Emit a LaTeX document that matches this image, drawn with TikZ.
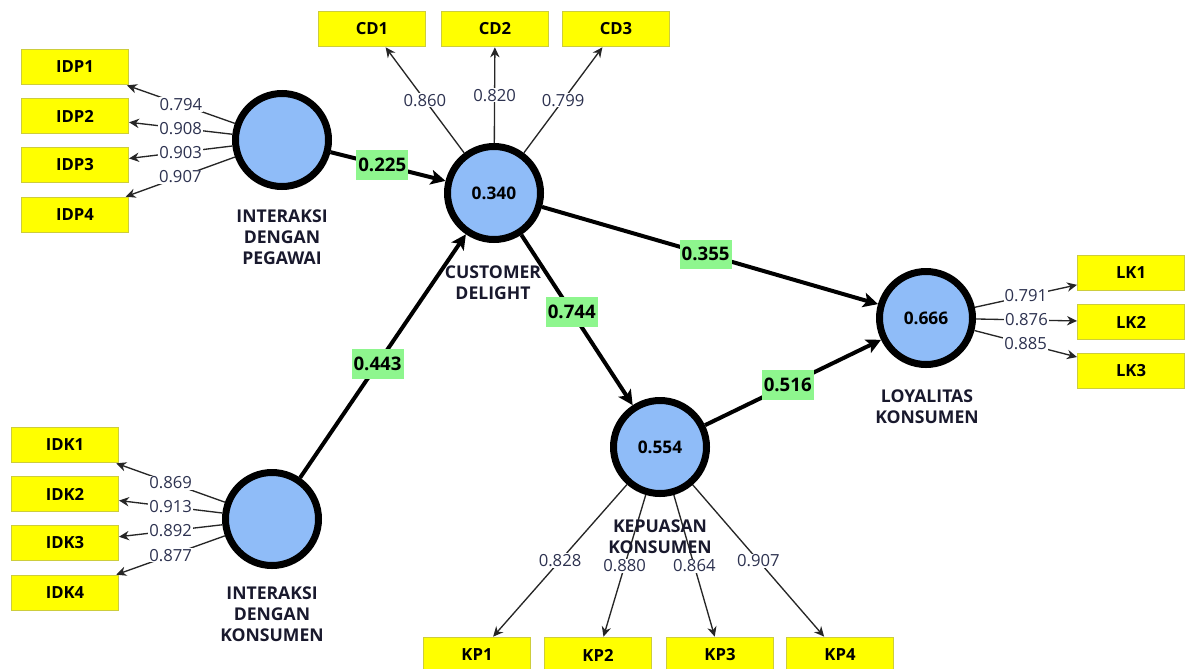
\documentclass[tikz,border=0pt]{standalone}
\usepackage{fontspec}
\setmainfont{Open Sans}
\usetikzlibrary{arrows.meta,calc}
\definecolor{boxyellow}{RGB}{255,255,0}
\definecolor{boxedge}{RGB}{205,205,60}
\definecolor{lvblue}{RGB}{143,188,248}
\definecolor{coefgreen}{RGB}{142,246,142}
\definecolor{loadtxt}{RGB}{45,50,80}
\definecolor{lvtxt}{RGB}{25,25,45}
\begin{document}
\begin{tikzpicture}[x=0.75pt,y=-0.75pt,
  ind/.style={draw=boxedge,line width=1pt,fill=boxyellow,minimum width=80pt,minimum height=26.5pt,inner sep=0pt,font=\fontsize{12.5}{15}\selectfont\bfseries},
  lv/.style={circle,draw=black,line width=5.25pt,fill=lvblue,minimum size=69.75pt,inner sep=0pt,font=\fontsize{13}{15}\selectfont\bfseries},
  lvname/.style={align=center,text=lvtxt,font=\fontsize{13.2}{15.75}\selectfont\bfseries},
  loadarrow/.style={draw=black!85,line width=1pt,-{Stealth[length=7.5pt,width=7pt]}},
  loadlab/.style={fill=white,inner sep=0.8pt,text=loadtxt,font=\fontsize{12.5}{14}\selectfont},
  struct/.style={draw=black,line width=3pt,-{Stealth[length=11pt,width=11pt,inset=2.5pt]}},
  coef/.style={fill=coefgreen,inner xsep=1.5pt,inner ysep=0pt,minimum height=22pt,font=\fontsize{14}{16}\selectfont\bfseries}
]
\useasboundingbox (0,0) rectangle (1187,668);
\fill[white] (0,0) rectangle (1187,668);

% latent variables
\node[lv] (idp) at (282,140) {};
\node[lv] (cd) at (494,193) {0.340};
\node[lv] (idk) at (272,519) {};
\node[lv] (kp) at (660,447) {0.554};
\node[lv] (lk) at (926,318) {0.666};

% indicators
\node[ind] (IDP1) at (75,67) {IDP1};
\node[ind] (IDP2) at (75,116) {IDP2};
\node[ind] (IDP3) at (75,165) {IDP3};
\node[ind] (IDP4) at (75,215) {IDP4};
\node[ind] (CD1) at (372,29) {CD1};
\node[ind] (CD2) at (495,29) {CD2};
\node[ind] (CD3) at (616,29) {CD3};
\node[ind] (LK1) at (1131,273) {LK1};
\node[ind] (LK2) at (1131,322) {LK2};
\node[ind] (LK3) at (1131,371) {LK3};
\node[ind] (IDK1) at (65,445) {IDK1};
\node[ind] (IDK2) at (65,494) {IDK2};
\node[ind] (IDK3) at (65,543) {IDK3};
\node[ind] (IDK4) at (65,593) {IDK4};
\node[ind] (KP1) at (477,655) {KP1};
\node[ind] (KP2) at (598,655) {KP2};
\node[ind] (KP3) at (720,655) {KP3};
\node[ind] (KP4) at (840,655) {KP4};

% outer loadings
\draw[loadarrow] (idp) -- node[loadlab]{0.794} (IDP1);
\draw[loadarrow] (idp) -- node[loadlab]{0.908} (IDP2);
\draw[loadarrow] (idp) -- node[loadlab]{0.903} (IDP3);
\draw[loadarrow] (idp) -- node[loadlab]{0.907} (IDP4);
\draw[loadarrow] (cd) -- node[loadlab]{0.860} (CD1);
\draw[loadarrow] (cd) -- node[loadlab]{0.820} (CD2);
\draw[loadarrow] (cd) -- node[loadlab]{0.799} (CD3);
\draw[loadarrow] (lk) -- node[loadlab]{0.791} (LK1);
\draw[loadarrow] (lk) -- node[loadlab]{0.876} (LK2);
\draw[loadarrow] (lk) -- node[loadlab]{0.885} (LK3);
\draw[loadarrow] (idk) -- node[loadlab]{0.869} (IDK1);
\draw[loadarrow] (idk) -- node[loadlab]{0.913} (IDK2);
\draw[loadarrow] (idk) -- node[loadlab]{0.892} (IDK3);
\draw[loadarrow] (idk) -- node[loadlab]{0.877} (IDK4);
\draw[loadarrow] (kp) -- node[loadlab]{0.828} (KP1);
\draw[loadarrow] (kp) -- node[loadlab]{0.880} (KP2);
\draw[loadarrow] (kp) -- node[loadlab]{0.864} (KP3);
\draw[loadarrow] (kp) -- node[loadlab]{0.907} (KP4);

% structural paths
\draw[struct] (idp) -- node[coef,pos=0.45]{0.225} (cd);
\draw[struct] (idk) -- node[coef,pos=0.467]{0.443} (cd);
\draw[struct] (cd) -- node[coef,pos=0.487]{0.355} (lk);
\draw[struct] (cd) -- node[coef,pos=0.453]{0.744} (kp);
\draw[struct] (kp) -- node[coef,pos=0.47]{0.516} (lk);

% construct names
\node[lvname] (idpname) at (282,237) {INTERAKSI\\DENGAN\\PEGAWAI};
\node[lvname] (cdname) at (493,283) {CUSTOMER\\DELIGHT};
\node[lvname] (idkname) at (272,614) {INTERAKSI\\DENGAN\\KONSUMEN};
\node[lvname] (kpname) at (660,537) {KEPUASAN\\KONSUMEN};
\node[lvname] (lkname) at (927,407) {LOYALITAS\\KONSUMEN};
\end{tikzpicture}
\end{document}
